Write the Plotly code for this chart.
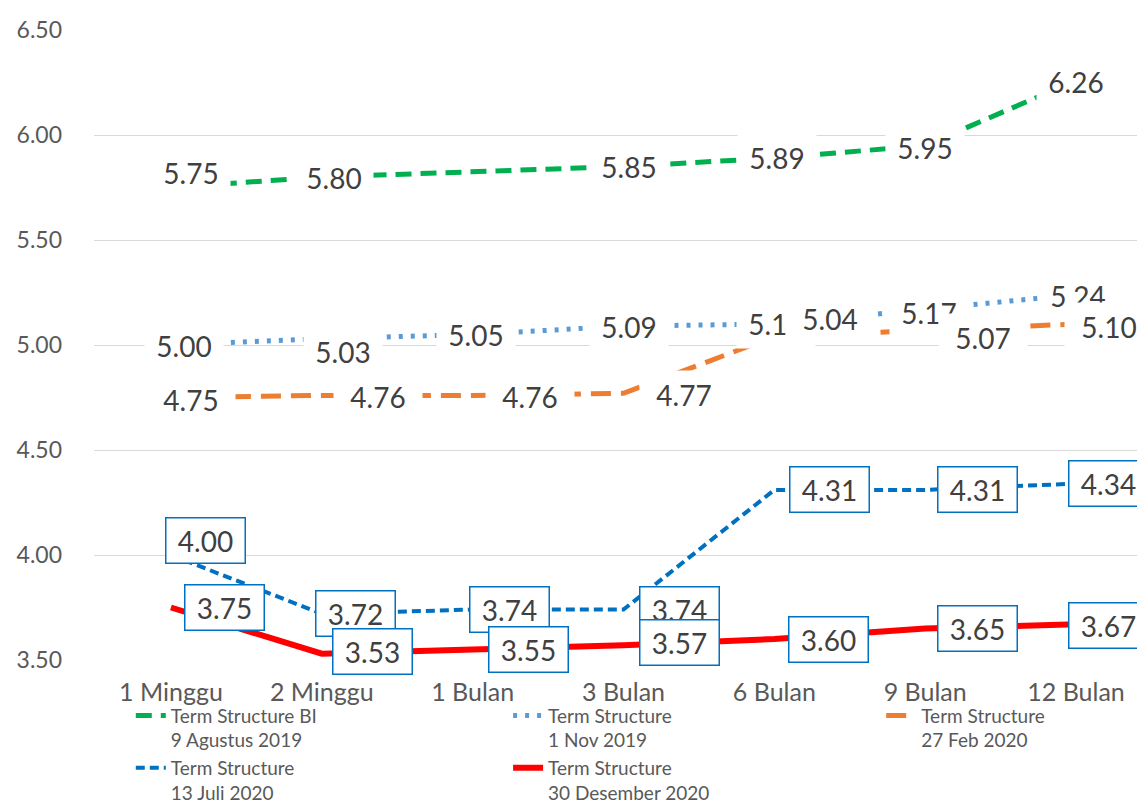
import plotly.graph_objects as go

# tenors on the x axis
tenors = ["1 Minggu", "2 Minggu", "1 Bulan", "3 Bulan", "6 Bulan", "9 Bulan", "12 Bulan"]

# yields (%) per term structure
bi_aug19 = [5.75, 5.80, None, 5.85, 5.89, 5.95, 6.26]
nov19 = [5.00, 5.03, 5.05, 5.09, 5.10, 5.17, 5.24]
feb20 = [4.75, 4.76, 4.76, 4.77, 5.04, 5.07, 5.10]
jul20 = [4.00, 3.72, 3.74, 3.74, 4.31, 4.31, 4.34]
dec20 = [3.75, 3.53, 3.55, 3.57, 3.60, 3.65, 3.67]

names = [
    "Term Structure BI<br>9 Agustus 2019",
    "Term Structure<br>1 Nov 2019",
    "Term Structure<br>27 Feb 2020",
    "Term Structure<br>13 Juli 2020",
    "Term Structure<br>30 Desember 2020",
]

# label offsets in px (right, up) - hand placed like the excel original
shift_bi = [(20, 15), (12, -1), (0, 0), (5, 0), (3, 0), (0, -2), (0, -2)]
shift_nov = [(13, -1), (21, -13), (3, 0), (5, -1), (2, 0), (4, -4), (2, -1)]
shift_feb = [(20, -2), (56, -2), (57, -2), (60, -2), (56, 18), (58, -8), (33, -3)]
shift_jul = [(35, 15), (34, 0), (37, 0), (56, 0), (55, 0), (52, 0), (32, 0)]
shift_dec = [(54, 0), (51, 2), (56, 0), (56, 3), (54, 0), (52, 0), (32, -1)]

FONT = "Lato"
LABEL_COLOR = "#404040"

series = [
    (bi_aug19, names[0], "#00B050", "16px,9px", 5, "legend", shift_bi, None),
    (nov19, names[1], "#5B9BD5", "4px,8px", 5, "legend2", shift_nov, None),
    (feb20, names[2], "#ED7D31", "20px,10px", 5, "legend3", shift_feb, None),
    (jul20, names[3], "#0070C0", "9px,5px", 4, "legend", shift_jul, "#0070C0"),
    (dec20, names[4], "#FF0000", "solid", 6, "legend2", shift_dec, "#0070C0"),
]
label_width = [74, 74, 84, 70, 70]

fig = go.Figure()

for i, (vals, name, color, dash, width, leg, shifts, box) in enumerate(series):
    fig.add_trace(go.Scatter(
        x=tenors, y=vals, name=name, mode="lines",
        line=dict(color=color, dash=dash, width=width),
        connectgaps=True, legend=leg, legendgroup=f"g{i}",
    ))

# data labels (white background hides the line / grid like in excel)
for k, (vals, name, color, dash, width, leg, shifts, box) in enumerate(series):
    for cat, v, (dx, dy) in zip(tenors, vals, shifts):
        if v is None:
            continue
        if box:
            style = dict(bgcolor="white", bordercolor=box, borderwidth=1.5,
                         width=label_width[k], height=36, borderpad=4)
        else:
            style = dict(bgcolor="white", width=label_width[k], height=44, borderpad=2)
        fig.add_annotation(
            x=cat, y=v, text=f"{v:.2f}", showarrow=False,
            xshift=dx, yshift=dy,
            font=dict(family=FONT, size=28, color=LABEL_COLOR),
            **style,
        )

legend_style = dict(
    orientation="v", xanchor="left", yanchor="top", y=-0.058,
    font=dict(family=FONT, size=19, color="#595959"),
    valign="top", tracegroupgap=0, bgcolor="rgba(0,0,0,0)",
)

# page body adds an 8px offset, so the figure is 8px smaller on each axis
fig.update_layout(
    width=1137, height=798,
    margin=dict(l=86, r=0, t=22, b=146, autoexpand=False),
    plot_bgcolor="white", paper_bgcolor="white",
    font=dict(family=FONT, color="#595959"),
    showlegend=True,
    legend=dict(x=0.035, **legend_style),
    legend2=dict(x=0.394, **legend_style),
    legend3=dict(x=0.749, **legend_style),
)

fig.update_xaxes(
    type="category", range=[-0.51, 6.457],
    showgrid=False, showline=False, zeroline=False,
    tickfont=dict(family=FONT, size=25, color="#595959"),
    ticklabelstandoff=15,
)
fig.update_yaxes(
    range=[3.5, 6.5], dtick=0.5, tickformat=".2f",
    showgrid=True, gridcolor="#D9D9D9", gridwidth=1.3,
    showline=False, zeroline=False,
    tickfont=dict(family=FONT, size=23, color="#595959"),
    ticklabelstandoff=31,
)

fig.write_html("out.html")
